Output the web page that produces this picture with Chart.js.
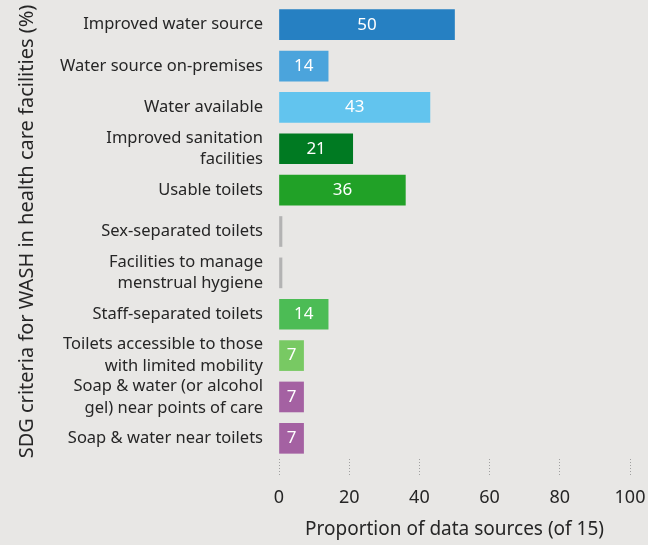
<!DOCTYPE html>
<html>
<head>
<meta charset="utf-8">
<script src="https://cdn.jsdelivr.net/npm/chart.js@4"></script>
<style>
  html, body { margin: 0; padding: 0; background: #e8e7e5; }
  #wrap { width: 648px; height: 545px; position: relative; }
</style>
</head>
<body>
<div id="wrap"><canvas id="chart"></canvas></div>
<script>
"use strict";

// Chart data
const categories = [
    "Improved water source",
    "Water source on-premises",
    "Water available",
    ["Improved sanitation", "facilities"],
    "Usable toilets",
    "Sex-separated toilets",
    ["Facilities to manage", "menstrual hygiene"],
    "Staff-separated toilets",
    ["Toilets accessible to those", "with limited mobility"],
    ["Soap & water (or alcohol", "gel) near points of care"],
    "Soap & water near toilets"
];
const values = [50, 14, 43, 21, 36, 0, 0, 14, 7, 7, 7];
const barColors = [
    "#2680c2", "#4ba4dc", "#62c4ee", "#007a22", "#21a127",
    "#b3b3b3", "#b3b3b3", "#4cbc55", "#78c963", "#a461a2", "#a461a2"
];
const xTicks = [0, 20, 40, 60, 80, 100];

const fontFamily = "'Noto Sans', sans-serif";
const textColor = "#262626";

// Draw value labels inside bars
const barLabels = {
    id: "barLabels",
    afterDatasetsDraw(chart) {
        const ctx = chart.ctx;
        const meta = chart.getDatasetMeta(0);
        ctx.save();
        ctx.fillStyle = "#ffffff";
        ctx.font = "17px " + fontFamily;
        ctx.textAlign = "center";
        ctx.textBaseline = "middle";
        meta.data.forEach((bar, i) => {
            if (values[i] > 0) {
                ctx.fillText(String(values[i]), (bar.x + bar.base) / 2, bar.y);
            }
        });
        ctx.restore();
    }
};

const config = {
    type: "bar",
    data: {
        labels: categories,
        datasets: [{
            data: values,
            backgroundColor: barColors,
            barThickness: 30,
            minBarLength: 3
        }]
    },
    options: {
        indexAxis: "y",
        responsive: true,
        maintainAspectRatio: false,
        animation: false,
        layout: { padding: { top: 4, right: 18, bottom: 4, left: 0 } },
        plugins: {
            legend: { display: false },
            tooltip: { enabled: false }
        },
        scales: {
            x: {
                min: 0,
                max: 100,
                afterBuildTicks: (scale) => {
                    scale.ticks = xTicks.map(v => ({ value: v }));
                },
                afterFit: (scale) => {
                    scale.height = 82;
                    scale.paddingLeft = 0;
                    scale.paddingRight = 0;
                },
                border: { display: false },
                grid: {
                    drawOnChartArea: false,
                    drawTicks: true,
                    tickLength: 17,
                    tickColor: "#a0a0a0",
                    tickWidth: 1,
                    tickBorderDash: [1, 2]
                },
                ticks: {
                    color: textColor,
                    font: { family: fontFamily, size: 18 },
                    padding: 11,
                    maxRotation: 0
                },
                title: {
                    display: true,
                    text: "Proportion of data sources (of 15)",
                    color: textColor,
                    font: { family: fontFamily, size: 19 },
                    padding: { top: 4, bottom: 0 }
                }
            },
            y: {
                border: { display: false },
                grid: { display: false, drawTicks: false },
                afterFit: (scale) => {
                    scale.width = 279;
                    scale.paddingTop = 0;
                    scale.paddingBottom = 0;
                },
                ticks: {
                    color: textColor,
                    font: { family: fontFamily, size: 16.5, lineHeight: 1.32 },
                    padding: 16,
                    autoSkip: false
                },
                title: {
                    display: true,
                    text: "SDG criteria for WASH in health care facilities (%)",
                    color: textColor,
                    font: { family: fontFamily, size: 20 },
                    padding: { top: 15, bottom: 0 }
                }
            }
        }
    },
    plugins: [barLabels]
};

const chart = new Chart(document.getElementById("chart").getContext("2d"), config);
</script>
</body>
</html>
